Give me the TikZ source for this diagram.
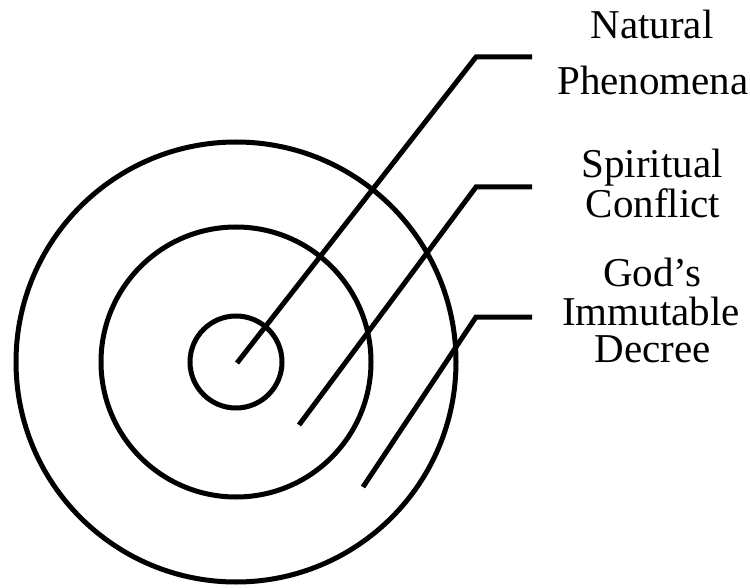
\documentclass[tikz,border=0pt]{standalone}
\usepackage{fontspec}
\setmainfont{Liberation Serif}
\begin{document}
\begin{tikzpicture}[x=1pt,y=-1pt,
  ring/.style={draw=black,line width=5pt},
  lead/.style={draw=black,line width=5pt,line join=miter},
  lbl/.style={anchor=base,inner sep=0pt,font=\fontsize{41}{41}\selectfont}]
\useasboundingbox (0,0) rectangle (750,588);
\coordinate (c) at (236,362);
\draw[ring] (c) circle[radius=46pt];
\draw[ring] (c) circle[radius=135pt];
\draw[ring] (c) circle[radius=220pt];
% leaders
\coordinate (a1) at (237,363); \coordinate (b1) at (476,57);  \coordinate (e1) at (532,57);
\coordinate (a2) at (299,425); \coordinate (b2) at (476,187); \coordinate (e2) at (532,187);
\coordinate (a3) at (363,487); \coordinate (b3) at (476,317); \coordinate (e3) at (532,317);
\draw[lead] (a1) -- (b1) -- (e1);
\draw[lead] (a2) -- (b2) -- (e2);
\draw[lead] (a3) -- (b3) -- (e3);
% labels
\node[lbl] (nat1) at (652,39)  {Natural};
\node[lbl] (nat2) at (653,95)  {Phenomena};
\node[lbl] (spi1) at (652,178) {Spiritual};
\node[lbl] (spi2) at (653,218) {Conflict};
\node[lbl] (god1) at (652,287) {God’s};
\node[lbl] (god2) at (651,325) {Immutable};
\node[lbl] (god3) at (653,362) {Decree};
\end{tikzpicture}
\end{document}
